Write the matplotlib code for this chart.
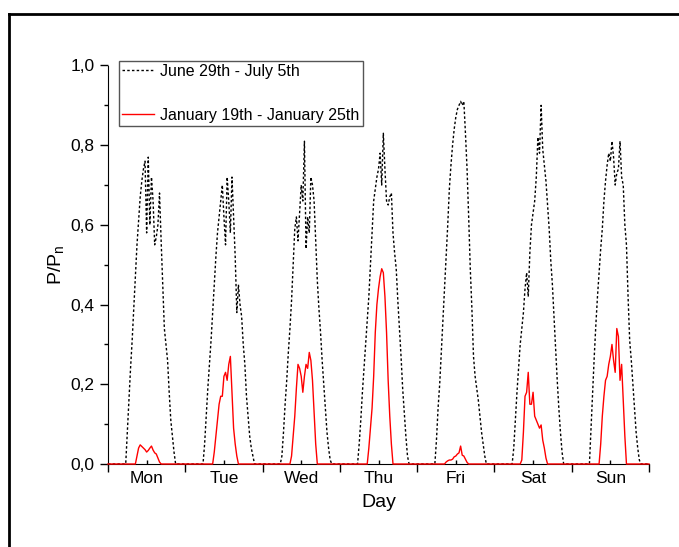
import numpy as np
import matplotlib.pyplot as plt
from matplotlib.lines import Line2D
from matplotlib.ticker import FuncFormatter, MultipleLocator

plt.rcParams['font.family'] = ['Liberation Sans', 'DejaVu Sans']

day_labels = ['Mon', 'Tue', 'Wed', 'Thu', 'Fri', 'Sat', 'Sun']

# hour grids (half-hour steps) for the daylight part of each day
summer_hours = np.arange(5.0, 22.01, 0.5)
winter_hours = np.arange(8.0, 17.01, 0.5)

# June 29th - July 5th, P/Pn from 5:00 to 22:00
summer_mon = [0, 0, 0.08, 0.16, 0.24, 0.31, 0.39, 0.47, 0.55, 0.61, 0.67, 0.71, 0.74, 0.76, 0.58, 0.77, 0.60, 0.72,
              0.66, 0.55, 0.57, 0.60, 0.68, 0.56, 0.45, 0.34, 0.30, 0.26, 0.18, 0.11, 0.07, 0.03, 0, 0, 0]
summer_tue = [0, 0, 0.05, 0.12, 0.19, 0.25, 0.31, 0.38, 0.45, 0.52, 0.58, 0.62, 0.66, 0.70, 0.62, 0.55, 0.72, 0.66,
              0.58, 0.72, 0.62, 0.52, 0.38, 0.45, 0.40, 0.37, 0.30, 0.25, 0.17, 0.12, 0.07, 0.04, 0.02, 0, 0]
summer_wed = [0, 0, 0.02, 0.08, 0.15, 0.21, 0.28, 0.34, 0.41, 0.50, 0.59, 0.62, 0.56, 0.63, 0.70, 0.66, 0.81, 0.54,
              0.62, 0.58, 0.72, 0.70, 0.66, 0.56, 0.46, 0.39, 0.33, 0.26, 0.20, 0.14, 0.08, 0.04, 0.01, 0, 0]
summer_thu = [0, 0, 0.05, 0.11, 0.18, 0.24, 0.30, 0.36, 0.42, 0.50, 0.58, 0.66, 0.69, 0.72, 0.74, 0.78, 0.70, 0.83,
              0.74, 0.66, 0.65, 0.67, 0.68, 0.58, 0.53, 0.49, 0.41, 0.34, 0.27, 0.19, 0.13, 0.07, 0.02, 0, 0]
summer_fri = [0, 0, 0.06, 0.14, 0.20, 0.28, 0.36, 0.44, 0.52, 0.60, 0.69, 0.75, 0.80, 0.84, 0.87, 0.89, 0.90, 0.91,
              0.90, 0.91, 0.83, 0.74, 0.62, 0.49, 0.39, 0.27, 0.22, 0.19, 0.16, 0.12, 0.08, 0.05, 0.02, 0, 0]
summer_sat = [0, 0, 0.04, 0.11, 0.18, 0.24, 0.30, 0.34, 0.38, 0.44, 0.48, 0.42, 0.53, 0.60, 0.63, 0.66, 0.72, 0.82,
              0.78, 0.90, 0.79, 0.75, 0.71, 0.65, 0.59, 0.51, 0.45, 0.37, 0.29, 0.21, 0.14, 0.08, 0.03, 0, 0]
summer_sun = [0, 0, 0.09, 0.18, 0.27, 0.35, 0.42, 0.48, 0.54, 0.59, 0.66, 0.71, 0.75, 0.78, 0.76, 0.81, 0.77, 0.70,
              0.73, 0.74, 0.81, 0.72, 0.70, 0.60, 0.55, 0.42, 0.31, 0.26, 0.20, 0.14, 0.08, 0.04, 0.01, 0, 0]

# January 19th - January 25th, P/Pn from 8:00 to 17:00
winter_mon = [0, 0, 0.02, 0.04, 0.048, 0.044, 0.04, 0.036, 0.03, 0.034, 0.04, 0.045, 0.035, 0.028, 0.025, 0.015,
              0.005, 0, 0]
winter_tue = [0, 0, 0.03, 0.07, 0.11, 0.15, 0.17, 0.17, 0.22, 0.23, 0.21, 0.25, 0.27, 0.18, 0.09, 0.05, 0.02, 0, 0]
winter_wed = [0, 0, 0.02, 0.07, 0.12, 0.19, 0.25, 0.24, 0.22, 0.18, 0.22, 0.25, 0.24, 0.28, 0.26, 0.21, 0.13, 0.05, 0]
winter_thu = [0, 0, 0.04, 0.09, 0.14, 0.22, 0.33, 0.40, 0.44, 0.47, 0.49, 0.48, 0.42, 0.33, 0.21, 0.12, 0.05, 0, 0]
winter_fri = [0, 0, 0.005, 0.008, 0.01, 0.01, 0.012, 0.018, 0.02, 0.025, 0.028, 0.045, 0.022, 0.02, 0.012, 0.004,
              0, 0, 0]
winter_sat = [0, 0.01, 0.08, 0.17, 0.18, 0.23, 0.15, 0.15, 0.18, 0.12, 0.11, 0.10, 0.09, 0.098, 0.06, 0.04, 0.015,
              0, 0]
winter_sun = [0, 0, 0.05, 0.12, 0.17, 0.21, 0.22, 0.25, 0.27, 0.30, 0.26, 0.23, 0.34, 0.32, 0.21, 0.25, 0.16, 0.07, 0]

summer_days = [summer_mon, summer_tue, summer_wed, summer_thu, summer_fri, summer_sat, summer_sun]
winter_days = [winter_mon, winter_tue, winter_wed, winter_thu, winter_fri, winter_sat, winter_sun]


def week_series(hours, days):
    xs, ys = [], []
    for d, vals in enumerate(days):
        xs += [d] + [d + h / 24 for h in hours] + [d + 1]
        ys += [0] + list(vals) + [0]
    return xs, ys


fig = plt.figure(figsize=(6.79, 5.47), dpi=100)
ax = fig.add_axes([108 / 679, 1 - 464 / 547, 541 / 679, 398.5 / 547])

xs, ys = week_series(summer_hours, summer_days)
ax.plot(xs, ys, color='black', linestyle=(0, (1.8, 1.6)), linewidth=1.0, label='June 29th - July 5th')
xw, yw = week_series(winter_hours, winter_days)
ax.plot(xw, yw, color='red', linewidth=1.0, label='January 19th - January 25th', clip_on=False, zorder=3)

ax.set_xlim(0, 7)
ax.set_ylim(0, 1.0)
ax.spines['top'].set_visible(False)
ax.spines['right'].set_visible(False)

ax.xaxis.set_major_locator(MultipleLocator(1))
ax.set_xticks(np.arange(0.5, 7, 1), minor=True)
ax.set_xticklabels(day_labels, minor=True)
ax.tick_params(axis='x', which='major', labelbottom=False, direction='out', length=6, width=1)
ax.tick_params(axis='x', which='minor', direction='in', length=3, width=1, labelsize=12.5, pad=5)

ax.yaxis.set_major_locator(MultipleLocator(0.2))
ax.yaxis.set_minor_locator(MultipleLocator(0.1))
ax.yaxis.set_major_formatter(FuncFormatter(lambda v, p: f'{v:.1f}'.replace('.', ',')))
ax.tick_params(axis='y', which='major', direction='out', length=6, width=1, labelsize=12.5)
ax.tick_params(axis='y', which='minor', direction='out', length=3, width=1)

ax.set_xlabel('Day', fontsize=14, labelpad=6)
ax.set_ylabel(r'P/P$_\mathregular{n}$', fontsize=14, labelpad=3)

ax.legend(loc='upper left', bbox_to_anchor=(0.02, 1.012), fontsize=11.5, frameon=True, fancybox=False,
          edgecolor='#555555', framealpha=1, borderpad=0.2, labelspacing=1.8, handlelength=2.0,
          handletextpad=0.4, borderaxespad=0)

# outer frame (top and left edges)
fig.add_artist(Line2D([9 / 679, 1], [1 - 14 / 547] * 2, transform=fig.transFigure, color='black', linewidth=2))
fig.add_artist(Line2D([9 / 679] * 2, [0, 1 - 14 / 547], transform=fig.transFigure, color='black', linewidth=2))

fig.savefig('out.png', dpi=100)
